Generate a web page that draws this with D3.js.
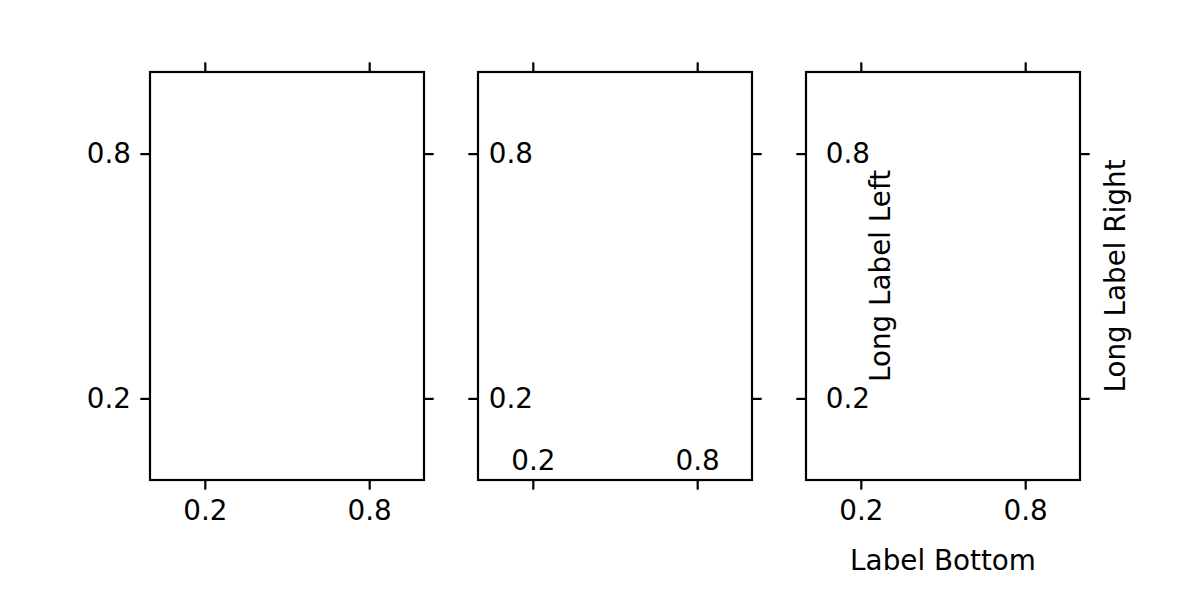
<!DOCTYPE html>
<html>
<head>
<meta charset="utf-8">
<script src="https://cdn.jsdelivr.net/npm/d3@7"></script>
<style>
  html, body { margin: 0; padding: 0; background: #fff; }
  svg { display: block; }
  text { font-family: "DejaVu Sans", sans-serif; }
</style>
</head>
<body>
<script>
// ---- data ----
const xDomain = [0, 1];
const yDomain = [0, 1];
const xTicks = [0.2, 0.8];
const yTicks = [0.2, 0.8];
const tickLabels = ["0.2", "0.8"];
const panelNames = ["default", "inside", "labelled"];
const xLabelBottom = "Label Bottom";
const yLabelLeft = "Long Label Left";
const yLabelRight = "Long Label Right";

// ---- layout ----
const W = 1200, H = 600;
const FS = 27.8;          // 10pt at 200dpi
const TICK = 9.7;         // 3.5pt
const LW = 2.2;           // 0.8pt
const panelLeft = [150, 478, 806];
const panelW = 274;
const plotTop = 72, plotBottom = 480;

const svg = d3.select("body").append("svg")
  .attr("width", W).attr("height", H);

function fmt(d) { const k = xTicks.indexOf(d); return k >= 0 ? tickLabels[k] : d3.format(".1f")(d); }

function styleAxis(g) {
  g.select(".domain").remove();
  g.attr("font-family", "DejaVu Sans, sans-serif").attr("font-size", FS);
  g.selectAll(".tick line").attr("stroke", "#000").attr("stroke-width", LW);
  g.selectAll(".tick text").attr("fill", "#000");
}

panelNames.forEach((name, i) => {
  const x0 = panelLeft[i];
  const x = d3.scaleLinear().domain(xDomain).range([x0, x0 + panelW]);
  const y = d3.scaleLinear().domain(yDomain).range([plotBottom, plotTop]);

  // frame
  svg.append("rect")
    .attr("x", x.range()[0]).attr("y", plotTop)
    .attr("width", panelW).attr("height", plotBottom - plotTop)
    .attr("fill", "none").attr("stroke", "#000").attr("stroke-width", LW);

  let bottomPad, leftPad;
  if (name === "inside") {
    bottomPad = (470 - plotBottom) - TICK - 0.71 * FS;
    leftPad = -(533 - x0) - TICK;
  } else if (name === "labelled") {
    bottomPad = (520 - plotBottom) - TICK - 0.71 * FS;
    leftPad = -(870 - x0) - TICK;
  } else {
    bottomPad = (520 - plotBottom) - TICK - 0.71 * FS;
    leftPad = (x0 - 131) - TICK;
  }

  svg.append("g").attr("transform", `translate(0,${plotBottom})`)
    .call(d3.axisBottom(x).tickValues(xTicks).tickFormat(fmt)
      .tickSize(TICK).tickSizeOuter(0).tickPadding(bottomPad))
    .call(styleAxis);
  svg.append("g").attr("transform", `translate(0,${plotTop})`)
    .call(d3.axisTop(x).tickValues(xTicks).tickFormat("")
      .tickSize(TICK).tickSizeOuter(0))
    .call(styleAxis);
  svg.append("g").attr("transform", `translate(${x0},0)`)
    .call(d3.axisLeft(y).tickValues(yTicks).tickFormat(fmt)
      .tickSize(TICK).tickSizeOuter(0).tickPadding(leftPad))
    .call(styleAxis);
  svg.append("g").attr("transform", `translate(${x0 + panelW},0)`)
    .call(d3.axisRight(y).tickValues(yTicks).tickFormat("")
      .tickSize(TICK).tickSizeOuter(0))
    .call(styleAxis);

  if (name === "labelled") {
    const cy = (plotTop + plotBottom) / 2;
    svg.append("text")
      .attr("transform", `translate(${x0 + panelW / 2},570)`)
      .attr("text-anchor", "middle").attr("font-size", FS).attr("fill", "#000")
      .text(xLabelBottom);
    svg.append("text")
      .attr("transform", `translate(890,${cy}) rotate(-90)`)
      .attr("text-anchor", "middle").attr("font-size", FS).attr("fill", "#000")
      .text(yLabelLeft);
    svg.append("text")
      .attr("transform", `translate(1125,${cy}) rotate(-90)`)
      .attr("text-anchor", "middle").attr("font-size", FS).attr("fill", "#000")
      .text(yLabelRight);
  }
});
</script>
</body>
</html>
